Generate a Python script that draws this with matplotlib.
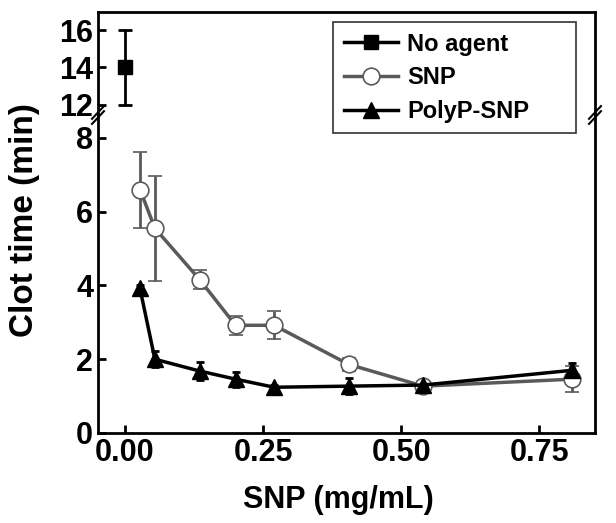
import matplotlib
matplotlib.use('Agg')
import matplotlib.pyplot as plt
from matplotlib.lines import Line2D

plt.rcParams['font.family'] = ['Liberation Sans', 'DejaVu Sans']
plt.rcParams['font.weight'] = 'bold'

# Datos
x_noagent = [0.0]
y_noagent = [14.0]
e_noagent = [2.0]

x_snp = [0.027, 0.054, 0.135, 0.2, 0.27, 0.405, 0.54, 0.81]
y_snp = [6.6, 5.55, 4.16, 2.92, 2.92, 1.86, 1.27, 1.46]
e_snp = [1.03, 1.42, 0.27, 0.25, 0.38, 0.18, 0.1, 0.35]

x_poly = [0.027, 0.054, 0.135, 0.2, 0.27, 0.405, 0.54, 0.81]
y_poly = [3.92, 2.0, 1.68, 1.46, 1.24, 1.27, 1.3, 1.7]
e_poly = [0.1, 0.22, 0.25, 0.2, 0.05, 0.22, 0.15, 0.2]

gris = '#5a5a5a'
fig = plt.figure(figsize=(6.16, 5.23), dpi=100)
l, r = 98 / 616, 595 / 616
ybot = (523 - 433) / 523
ybrk = (523 - 115) / 523
ytop = (523 - 12) / 523
ax_lo = fig.add_axes([l, ybot, r - l, ybrk - ybot])
ax_hi = fig.add_axes([l, ybrk, r - l, ytop - ybrk], sharex=ax_lo)
ax_hi.set_zorder(3)
ax_hi.patch.set_alpha(0)

ax_hi.errorbar(x_noagent, y_noagent, yerr=e_noagent, fmt='-s', color='black',
               ms=10, lw=2.5, elinewidth=2, capsize=5, capthick=2)
ax_lo.errorbar(x_snp, y_snp, yerr=e_snp, fmt='-o', color=gris, mfc='white',
               mec=gris, mew=1.2, ms=12, lw=2.5, elinewidth=2, capsize=5, capthick=2)
ax_lo.errorbar(x_poly, y_poly, yerr=e_poly, fmt='-^', color='black',
               ms=12, lw=2.5, elinewidth=2, capsize=3, capthick=2)

ax_hi.set_ylim(11.45, 16.97)
ax_hi.set_yticks([12, 14, 16])
ax_lo.set_ylim(0, 8.62)
ax_lo.set_yticks([0, 2, 4, 6, 8])
ax_lo.set_xlim(-0.049, 0.851)
ax_lo.set_xticks([0.0, 0.25, 0.5, 0.75])
ax_lo.set_xticklabels(['0.00', '0.25', '0.50', '0.75'])

for ax in (ax_hi, ax_lo):
    for s in ax.spines.values():
        s.set_linewidth(2)
    ax.tick_params(direction='in', length=6, width=2, labelsize=22, right=False, top=False)
ax_hi.spines['bottom'].set_visible(False)
ax_lo.spines['top'].set_visible(False)
ax_hi.tick_params(axis='x', bottom=False, labelbottom=False)

# marcas de corte
d = 0.012
for xs in (0, 1):
    for dy in (-0.008, 0.008):
        ax_lo.plot([xs - d, xs + d], [1 + dy - 0.02, 1 + dy + 0.02],
                   transform=ax_lo.transAxes, color='black', lw=1.5, clip_on=False)

handles = [
    Line2D([], [], color='black', marker='s', ms=10, lw=2.5),
    Line2D([], [], color=gris, marker='o', mfc='white', mec=gris, mew=1.2, ms=12, lw=2.5),
    Line2D([], [], color='black', marker='^', ms=12, lw=2.5),
]
# caja de la leyenda: x 333-576 px, arriba en y=22 px
leg = ax_hi.legend(handles, ['No agent', 'SNP', 'PolyP-SNP'], loc='upper left',
                   bbox_to_anchor=(0.473, 0.0, 0.489, 0.903), mode='expand',
                   fontsize=17, frameon=True, fancybox=False, edgecolor='black',
                   handlelength=2.3, borderpad=0.45, labelspacing=0.45,
                   handletextpad=0.4, borderaxespad=0)
leg.get_frame().set_linewidth(1.2)

fig.text(0.04, 0.579, 'Clot time (min)', rotation=90, ha='center', va='center', fontsize=24)
fig.text(0.55, 0.044, 'SNP (mg/mL)', ha='center', va='center', fontsize=22)

fig.savefig('out.png', dpi=100)
